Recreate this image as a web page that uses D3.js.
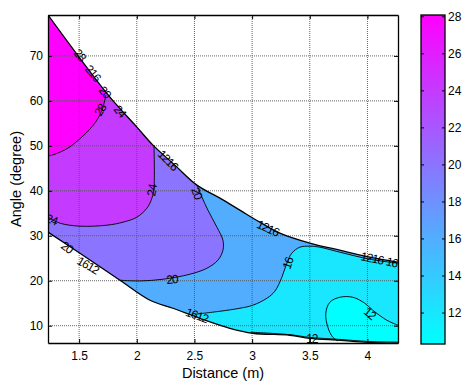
<!DOCTYPE html>
<html>
<head>
<meta charset="utf-8">
<script src="https://cdn.jsdelivr.net/npm/d3@7"></script>
<style>
  body { margin: 0; background: #fff; }
  text { font-family: "Liberation Sans", Arial, sans-serif; }
</style>
</head>
<body>
<div id="chart"></div>
<script>
// axis ticks
const xTicks = [1.5, 2, 2.5, 3, 3.5, 4];
const yTicks = [10, 20, 30, 40, 50, 60, 70];
const cbTicks = [12, 14, 16, 18, 20, 22, 24, 26, 28];
const cbRange = [10.3, 28.07];

// edges of the measured region [distance, angle]
const upperEdge = [
  [1.23, 79.1], [1.499, 69.75], [1.767, 60.85], [2.001, 54.17], [2.14, 50.16],
  [2.33, 45.71], [2.521, 41.26], [2.721, 38.36], [2.894, 35.69], [3.067, 33.02],
  [3.24, 30.57], [3.5, 28.35], [3.76, 26.79], [4.02, 25.23], [4.265, 24.12]
];
const lowerEdge = [
  [1.23, 30.8], [1.507, 26.12], [1.854, 20.11], [2.114, 15.66], [2.313, 13.88],
  [2.547, 11.65], [2.807, 9.43], [3.006, 8.32], [3.327, 7.87], [3.5, 7.2],
  [3.76, 6.76], [4.003, 6.31], [4.265, 6.12]
];

// contour lines, each level
const contour28 = [
  [1.733, 61.29], [1.698, 57.95], [1.637, 55.06], [1.533, 52.17], [1.403, 49.49],
  [1.291, 48.16], [1.23, 47.71]
];
const contour24 = [
  [2.149, 50.16], [2.149, 40.59], [2.131, 38.36], [2.088, 36.14], [2.001, 34.14],
  [1.88, 33.02], [1.741, 32.35], [1.507, 32.13], [1.334, 32.8], [1.23, 34.13]
];
const contour20 = [
  [2.521, 41.26], [2.565, 38.59], [2.617, 35.69], [2.695, 31.91], [2.747, 29.01],
  [2.747, 26.79], [2.703, 24.56], [2.608, 22.78], [2.461, 21.45], [2.227, 20.33],
  [2.027, 19.95], [1.854, 20.11]
];
const contour16 = [
  [2.504, 12.54], [2.721, 13.21], [2.894, 13.88], [3.006, 14.55], [3.128, 16.1],
  [3.197, 17.66], [3.258, 20.78], [3.301, 23.9], [3.344, 26.12], [3.414, 27.46],
  [3.5, 27.68], [3.587, 27.46], [3.76, 26.35], [4.02, 24.79], [4.265, 23.9]
];
const contour12 = [
  [4.265, 10.1], [4.168, 11.21], [4.047, 13.43], [3.977, 14.99], [3.873, 16.32],
  [3.76, 16.32], [3.674, 15.21], [3.639, 12.76], [3.657, 9.65], [3.7, 7.42],
  [3.743, 6.6]
];
const contour12Low = [
  [2.99, 8.55], [3.327, 8.0], [3.5, 7.4], [3.76, 6.95], [4.003, 6.5], [4.265, 6.35]
];

// inline contour labels [distance, angle, text, rotation]
const contourLabels = [
  [1.507, 70.2, '28', 50], [1.62, 66.19, '216', 50], [1.724, 61.96, '20', 50],
  [1.681, 57.95, '28', -60], [1.854, 57.73, '24', 50], [2.27, 46.82, '1216', 45],
  [2.131, 40.1, '24', -80], [2.521, 39.5, '20', 70], [1.26, 33.6, '24', 20],
  [1.395, 27.46, '20', 35], [1.577, 23.45, '1612', 30], [2.305, 20.33, '20', -5],
  [3.31, 23.9, '16', -70], [3.136, 31.7, '1216', 25], [2.521, 12.3, '1612', 20],
  [4.02, 12.76, '12', 40], [3.518, 7.0, '12', 0], [4.04, 25.0, '1216', 12],
  [4.211, 24.1, '16', 15]
];

const W = 464, H = 381;
const plot = { left: 48, right: 398, top: 15, bottom: 343 };

const x = d3.scaleLinear().domain([1.23, 4.265]).range([plot.left, plot.right]);
const y = d3.scaleLinear().domain([6.15, 79.1]).range([plot.bottom, plot.top]);
const cb = d3.scaleLinear().domain(cbRange).range([344, 15]);
const cool = d3.interpolateRgb('#00ffff', '#ff00ff');
const levelColor = v => cool((v - cbRange[0]) / (cbRange[1] - cbRange[0]));

const svg = d3.select('#chart').append('svg')
  .attr('width', W).attr('height', H);

svg.append('clipPath').attr('id', 'plotclip')
  .append('rect')
  .attr('x', plot.left).attr('y', plot.top)
  .attr('width', plot.right - plot.left).attr('height', plot.bottom - plot.top);

const g = svg.append('g').attr('clip-path', 'url(#plotclip)');

const line = d3.line().x(d => x(d[0])).y(d => y(d[1])).curve(d3.curveCatmullRom.alpha(0.5));
const last = a => a[a.length - 1];
const U = upperEdge, L = lowerEdge;

// join smoothed pieces into one closed outline
const outline = (...pieces) =>
  pieces.filter(p => p.length).map((p, i) => {
    const d = p.length > 1 ? line(p) : `M${x(p[0][0])},${y(p[0][1])}`;
    return i ? d.replace(/^M/, 'L') : d;
  }).join('') + 'Z';

const bands = [
  { level: 12, d: outline(U, L.slice().reverse()) },
  { level: 16, d: outline(contour16, U.slice().reverse(), L.filter(p => p[0] < contour16[0][0])) },
  { level: 20, d: outline(contour20, L.filter(p => p[0] < last(contour20)[0]).reverse(), U.filter(p => p[0] < contour20[0][0])) },
  { level: 24, d: outline(contour24, U.filter(p => p[0] < contour24[0][0])) },
  { level: 28, d: outline(contour28, U.filter(p => p[0] < contour28[0][0])) },
  { level: cbRange[0], d: outline(contour12, L.filter(p => p[0] > last(contour12)[0])) }
];

g.selectAll('.band')
  .data(bands)
  .enter()
  .append('path')
  .attr('class', 'band')
  .attr('d', d => d.d)
  .attr('fill', d => levelColor(d.level))
  .attr('stroke', 'none');

// grid
g.selectAll('.gx').data(xTicks).enter().append('line')
  .attr('x1', d => x(d)).attr('x2', d => x(d))
  .attr('y1', plot.top).attr('y2', plot.bottom)
  .attr('stroke', '#555').attr('stroke-width', 0.9).attr('stroke-dasharray', '1,1');
g.selectAll('.gy').data(yTicks).enter().append('line')
  .attr('y1', d => y(d)).attr('y2', d => y(d))
  .attr('x1', plot.left).attr('x2', plot.right)
  .attr('stroke', '#555').attr('stroke-width', 0.9).attr('stroke-dasharray', '1,1');

// contour lines
const contourLines = [contour28, contour24, contour20, contour16, contour12, contour12Low];
g.selectAll('.cline').data(contourLines).enter().append('path')
  .attr('d', d => line(d))
  .attr('fill', 'none').attr('stroke', '#000').attr('stroke-width', 0.9);
g.selectAll('.edge').data([U, L]).enter().append('path')
  .attr('d', d => line(d))
  .attr('fill', 'none').attr('stroke', '#000').attr('stroke-width', 1.3);

g.selectAll('.clabel').data(contourLabels).enter().append('text')
  .attr('transform', d => `translate(${x(d[0])},${y(d[1])}) rotate(${d[3]})`)
  .attr('text-anchor', 'middle')
  .attr('dy', '0.35em')
  .attr('font-size', '12px')
  .attr('letter-spacing', '-1px')
  .attr('fill', '#000')
  .text(d => d[2]);

// axes
const axes = svg.append('g');
axes.append('g')
  .attr('transform', `translate(0,${plot.bottom})`)
  .call(d3.axisBottom(x).tickValues(xTicks).tickFormat(d3.format('')).tickSizeInner(-4).tickSizeOuter(0).tickPadding(8));
axes.append('g')
  .attr('transform', `translate(0,${plot.top})`)
  .call(d3.axisTop(x).tickValues(xTicks).tickFormat('').tickSizeInner(-4).tickSizeOuter(0));
axes.append('g')
  .attr('transform', `translate(${plot.left},0)`)
  .call(d3.axisLeft(y).tickValues(yTicks).tickSizeInner(-4).tickSizeOuter(0).tickPadding(5));
axes.append('g')
  .attr('transform', `translate(${plot.right},0)`)
  .call(d3.axisRight(y).tickValues(yTicks).tickFormat('').tickSizeInner(-4).tickSizeOuter(0));
axes.selectAll('text').attr('font-size', '12px').attr('fill', '#000')
  .style('font-family', '"Liberation Sans", Arial, sans-serif');
axes.selectAll('path.domain').attr('stroke', '#000').attr('stroke-width', 1.3);
axes.selectAll('.tick line').attr('stroke', '#000');

svg.append('text')
  .attr('x', (plot.left + plot.right) / 2).attr('y', 378)
  .attr('text-anchor', 'middle').attr('font-size', '14.5px')
  .text('Distance (m)');
svg.append('text')
  .attr('transform', `translate(21,${(plot.top + plot.bottom) / 2}) rotate(-90)`)
  .attr('text-anchor', 'middle').attr('font-size', '14.5px')
  .text('Angle (degree)');

// colorbar
const cbX = 421, cbW = 24;
const grad = svg.append('defs').append('linearGradient')
  .attr('id', 'coolgrad').attr('x1', 0).attr('y1', 1).attr('x2', 0).attr('y2', 0);
grad.append('stop').attr('offset', '0%').attr('stop-color', '#00ffff');
grad.append('stop').attr('offset', '100%').attr('stop-color', '#ff00ff');

svg.append('rect')
  .attr('x', cbX).attr('y', cb(cbRange[1]))
  .attr('width', cbW).attr('height', cb(cbRange[0]) - cb(cbRange[1]))
  .attr('fill', 'url(#coolgrad)').attr('stroke', '#000').attr('stroke-width', 1.3);

const cbAxis = svg.append('g');
cbAxis.append('g')
  .attr('transform', `translate(${cbX + cbW},0)`)
  .call(d3.axisRight(cb).tickValues(cbTicks).tickSizeInner(-3).tickSizeOuter(0).tickPadding(3));
cbAxis.append('g')
  .attr('transform', `translate(${cbX},0)`)
  .call(d3.axisLeft(cb).tickValues(cbTicks).tickFormat('').tickSizeInner(-3).tickSizeOuter(0));
cbAxis.selectAll('path.domain').remove();
cbAxis.selectAll('.tick line').attr('stroke', '#000');
cbAxis.selectAll('text').attr('font-size', '12px').attr('fill', '#000')
  .style('font-family', '"Liberation Sans", Arial, sans-serif');
</script>
</body>
</html>
